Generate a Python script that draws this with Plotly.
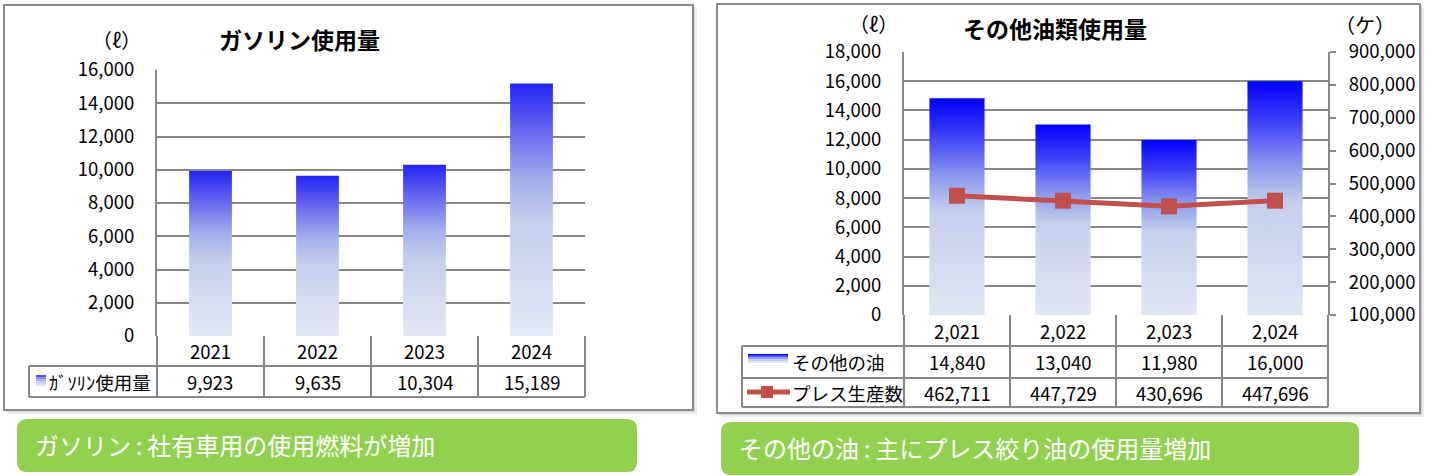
import plotly.graph_objects as go

FONT = "Noto Sans CJK JP"
W, H = 1433, 476
GRID = "#878787"
RED = "#C0504D"
GREEN = "#92D050"

# ── Data ──────────────────────────────────────────────────────────────────────
years = [2021, 2022, 2023, 2024]
gasoline = [9923, 9635, 10304, 15189]          # ガソリン使用量 (ℓ)
other_oil = [14840, 13040, 11980, 16000]       # その他の油 (ℓ)
press_count = [462711, 447729, 430696, 447696]  # プレス生産数 (ケ)

gas_name = "ｶﾞｿﾘﾝ使用量"
oil_name = "その他の油"
press_name = "プレス生産数"


def px(x):
    return x / W


def py(y):
    return 1 - y / H


# plot areas in page pixels (left, top, right, bottom)
L_AREA = (157, 70, 585, 336)
R_AREA = (904, 52, 1328, 315)

GAS_SCALE = [[0, "#E3E8F5"], [0.45, "#C4CFEB"], [0.62, "#A3AEEC"],
             [0.82, "#6464F0"], [1, "#2424F5"]]
OIL_SCALE = [[0, "#E0E6F4"], [0.48, "#C4CFEB"], [0.64, "#8C98EE"],
             [0.84, "#3A3AF8"], [1, "#0000FF"]]

fig = go.Figure()


def add_bars(values, xa, ya, bw, scale):
    for i, v in enumerate(values):
        fig.add_trace(go.Scatter(
            x=[i - bw / 2, i + bw / 2, i + bw / 2, i - bw / 2, i - bw / 2],
            y=[0, 0, v, v, 0],
            xaxis=xa, yaxis=ya,
            mode="lines", fill="toself",
            line=dict(width=0, color="rgba(0,0,0,0)"),
            fillgradient=dict(type="vertical", colorscale=scale),
            hoverinfo="skip", showlegend=False,
        ))


add_bars(gasoline, "x", "y", 0.40, GAS_SCALE)
add_bars(other_oil, "x2", "y2", 0.52, OIL_SCALE)

fig.add_trace(go.Scatter(
    x=list(range(len(years))), y=press_count, xaxis="x2", yaxis="y3",
    mode="lines+markers",
    line=dict(color=RED, width=5),
    marker=dict(symbol="square", size=16, color=RED),
    showlegend=False,
))

tickfont = dict(family=FONT, size=18.5, color="#000")
yax = dict(showgrid=True, gridcolor=GRID, gridwidth=2, zeroline=False,
           showline=True, linecolor=GRID, linewidth=2, tickformat=",",
           tickfont=tickfont, ticks="", ticklabelstandoff=17, fixedrange=True,
           automargin=False)
xax = dict(range=[-0.5, 3.5], showgrid=False, zeroline=False,
           showticklabels=False, showline=False, fixedrange=True,
           automargin=False)

fig.update_layout(
    template="none",
    width=W, height=H, autosize=False,
    margin=dict(l=0, r=0, t=0, b=0, pad=0, autoexpand=False),
    paper_bgcolor="white", plot_bgcolor="rgba(0,0,0,0)",
    font=dict(family=FONT, color="#000"),
    showlegend=False,
    xaxis=dict(xax, domain=[px(L_AREA[0]), px(L_AREA[2])], anchor="y"),
    yaxis=dict(yax, domain=[py(L_AREA[3]), py(L_AREA[1])], range=[0, 16000],
               dtick=2000, anchor="x"),
    xaxis2=dict(xax, domain=[px(R_AREA[0]), px(R_AREA[2])], anchor="y2"),
    yaxis2=dict(yax, domain=[py(R_AREA[3]), py(R_AREA[1])], range=[0, 18000],
                dtick=2000, anchor="x2"),
    yaxis3=dict(overlaying="y2", side="right", anchor="x2", range=[100000, 900000],
                dtick=100000, tickformat=",", showgrid=False, zeroline=False,
                showline=True, linecolor=GRID, linewidth=2, ticks="outside",
                ticklen=6, tickwidth=2, tickcolor=GRID, tickfont=tickfont,
                ticklabelstandoff=9, fixedrange=True, automargin=False),
)

shapes = []
annos = []


def rect(x0, y0, x1, y1, **kw):
    shapes.append(dict(type="rect", xref="paper", yref="paper",
                       x0=px(x0), x1=px(x1), y0=py(y1), y1=py(y0), **kw))


def line(x0, y0, x1, y1, color=GRID, width=2, layer="above"):
    shapes.append(dict(type="line", xref="paper", yref="paper", layer=layer,
                       x0=px(x0), x1=px(x1), y0=py(y0), y1=py(y1),
                       line=dict(color=color, width=width)))


def text(x, y, s, size=18.5, anchor="center", color="#000", bold=False):
    annos.append(dict(xref="paper", yref="paper", x=px(x), y=py(y),
                      text=f"<b>{s}</b>" if bold else s, showarrow=False,
                      xanchor=anchor, yanchor="middle",
                      font=dict(family=FONT, size=size, color=color)))


def rounded(x0, y0, x1, y1, r):
    def p(x, y):
        return f"{px(x):.5f},{py(y):.5f}"
    return (f"M{p(x0 + r, y0)} L{p(x1 - r, y0)} Q{p(x1, y0)} {p(x1, y0 + r)} "
            f"L{p(x1, y1 - r)} Q{p(x1, y1)} {p(x1 - r, y1)} L{p(x0 + r, y1)} "
            f"Q{p(x0, y1)} {p(x0, y1 - r)} L{p(x0, y0 + r)} Q{p(x0, y0)} {p(x0 + r, y0)} Z")


# ── panels with soft shadow ───────────────────────────────────────────────────
for (x0, y0, x1, y1) in [(4, 5, 693, 410), (717, 4, 1420, 413)]:
    rect(x0 + 4, y0 + 4, x1 + 4, y1 + 4, fillcolor="#EBEBEB", line=dict(width=0), layer="below")
    rect(x0 + 2, y0 + 2, x1 + 2, y1 + 2, fillcolor="#D4D4D4", line=dict(width=0), layer="below")
    rect(x0, y0, x1, y1, fillcolor="white", line=dict(color="#8C8C8C", width=2), layer="below")

# ── titles / units ────────────────────────────────────────────────────────────
text(299, 39, "ガソリン使用量", size=23, bold=True)
text(116, 39, "（ℓ）", size=20)
text(1055, 28, "その他油類使用量", size=23, bold=True)
text(873, 23, "（ℓ）", size=20)
text(1365, 24, "（ケ）", size=20)

# ── left data table ───────────────────────────────────────────────────────────
lx0, _, lx1, lb = L_AREA
cw = (lx1 - lx0) / len(years)
row1, row2 = lb + 30, lb + 61
for i in range(len(years) + 1):
    line(lx0 + i * cw, lb, lx0 + i * cw, row2)
line(29, row1, 29, row2)
line(29, row1, lx1, row1)
line(29, row2, lx1, row2)
for i, (yr, v) in enumerate(zip(years, gasoline)):
    cx = lx0 + (i + 0.5) * cw
    text(cx, (lb + row1) / 2, str(yr))
    text(cx, (row1 + row2) / 2, f"{v:,}")
# legend key: small gradient square
steps = ["#4B4BF2", "#7C84EE", "#A9B4EC", "#C8D2EC", "#DCE2F3"]
for k, c in enumerate(steps):
    rect(36, 375 + k * 2.2, 46, 375 + (k + 1) * 2.2, fillcolor=c, line=dict(width=0))
text(47, (row1 + row2) / 2, gas_name, anchor="left")

# ── right data table ──────────────────────────────────────────────────────────
rx0, _, rx1, rb = R_AREA
cw2 = (rx1 - rx0) / len(years)
r1, r2, r3 = rb + 31, rb + 63, rb + 92
for i in range(len(years) + 1):
    line(rx0 + i * cw2, rb, rx0 + i * cw2, r3)
line(742, r1, 742, r3)
for yy in (r1, r2, r3):
    line(742, yy, rx1, yy)
for i, (yr, v, p) in enumerate(zip(years, other_oil, press_count)):
    cx = rx0 + (i + 0.5) * cw2
    text(cx, (rb + r1) / 2, f"{yr:,}")
    text(cx, (r1 + r2) / 2, f"{v:,}")
    text(cx, (r2 + r3) / 2, f"{p:,}")
steps = ["#0000FF", "#4A55F2", "#8E9BEE", "#C4CFEB", "#DCE2F3"]
for k, c in enumerate(steps):
    rect(748, 354 + k * 1.8, 788, 354 + (k + 1) * 1.8, fillcolor=c, line=dict(width=0))
line(747, 392, 790, 392, color=RED, width=5)
rect(761, 386, 773, 398, fillcolor=RED, line=dict(width=0))
text(790, (r1 + r2) / 2, oil_name, anchor="left")
text(790, (r2 + r3) / 2, press_name, anchor="left")

# ── green comment boxes ───────────────────────────────────────────────────────
for (x0, y0, x1, y1), msg in [((17, 419, 637, 472), "ガソリン\u2009:\u2009社有車用の使用燃料が増加"),
                              ((721, 422, 1359, 475), "その他の油\u2009:\u2009主にプレス絞り油の使用量増加")]:
    shapes.append(dict(type="path", xref="paper", yref="paper", path=rounded(x0, y0, x1, y1, 10),
                       fillcolor=GREEN, line=dict(width=0), layer="above"))
    text(x0 + 16, (y0 + y1) / 2 - 1, msg, size=24, anchor="left", color="white")

fig.update_layout(shapes=shapes, annotations=annos)

# page body has a default 8px margin; drop it so the figure sits at the window origin
fig.write_html("out.html", config={"displayModeBar": False},
               post_script="document.body.style.margin='0px';")
